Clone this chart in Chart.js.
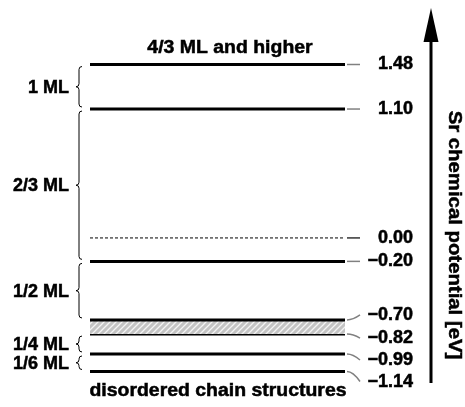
<!DOCTYPE html>
<html>
<head>
<meta charset="utf-8">
<script src="https://cdn.jsdelivr.net/npm/chart.js@4/dist/chart.umd.min.js"></script>
<style>
  html, body { margin: 0; padding: 0; background: #fff; }
  canvas { display: block; }
</style>
</head>
<body>
<canvas id="levels" width="465" height="407"></canvas>
<script>
// Sr chemical potential levels (eV) and the labels printed next to them
const levels = [1.48, 1.10, 0.00, -0.20, -0.70, -0.82, -0.99, -1.14];
const levelLabels = ["1.48", "1.10", "0.00", "\u22120.20", "\u22120.70", "\u22120.82", "\u22120.99", "\u22121.14"];

// coverage phases and the potential range each brace spans
const phases = ["1 ML", "2/3 ML", "1/2 ML", "1/4 ML", "1/6 ML"];
const phaseTop = [1.48, 1.10, -0.20, -0.82, -0.99];
const phaseBottom = [1.10, -0.20, -0.70, -0.99, -1.14];

// hatched region between two levels
const band = [-0.70, -0.82];

const topText = "4/3 ML and higher";
const bottomText = "disordered chain structures";
const axisTitle = "Sr chemical potential [eV]";

document.addEventListener("DOMContentLoaded", function () {
    const ctx = document.getElementById("levels").getContext("2d");

    // small nudges so crowded labels don't collide
    const labelNudge = [0, 0, 0, 0, -5, 4, 6, 10];

    function hatch() {
        const c = document.createElement("canvas");
        c.width = 6; c.height = 6;
        const g = c.getContext("2d");
        g.fillStyle = "#c4c4c4";
        g.fillRect(0, 0, 6, 6);
        g.strokeStyle = "#f4f4f4";
        g.lineWidth = 1.3;
        g.beginPath();
        g.moveTo(0, 6); g.lineTo(6, 0);
        g.moveTo(-1, 1); g.lineTo(1, -1);
        g.moveTo(5, 7); g.lineTo(7, 5);
        g.stroke();
        return ctx.createPattern(c, "repeat");
    }

    function text(c, str, x, y, align, size, stretch) {
        c.save();
        c.font = "bold " + size + "px 'Liberation Sans', Arial, sans-serif";
        c.textAlign = align;
        c.textBaseline = "middle";
        c.fillStyle = "#000";
        c.strokeStyle = "#000";
        c.lineWidth = 0.5;
        c.translate(x, y);
        c.scale(stretch, 1);
        c.fillText(str, 0, 0);
        c.strokeText(str, 0, 0);
        c.restore();
    }

    function brace(c, x, top, bottom) {
        const mid = (top + bottom) / 2;
        const r = Math.min(3, (bottom - top) / 4);
        c.beginPath();
        c.moveTo(x + 3, top);
        c.quadraticCurveTo(x, top, x, top + r);
        c.lineTo(x, mid - r);
        c.quadraticCurveTo(x, mid, x - 3, mid);
        c.quadraticCurveTo(x, mid, x, mid + r);
        c.lineTo(x, bottom - r);
        c.quadraticCurveTo(x, bottom, x + 3, bottom);
        c.stroke();
    }

    const annotations = {
        id: "annotations",
        afterDraw(chart) {
            const c = chart.ctx;
            const y = chart.scales.y;
            const area = chart.chartArea;

            // level labels with leader lines
            levels.forEach((v, i) => {
                const ly = y.getPixelForValue(v);
                const ty = ly + labelNudge[i];
                c.save();
                c.strokeStyle = v === 0 ? "#000" : "#808080";
                c.lineWidth = v === 0 ? 1.2 : 1.5;
                c.beginPath();
                c.moveTo(area.right + 2, ly);
                if (ty === ly) {
                    c.lineTo(area.right + 15, ly);
                } else {
                    c.quadraticCurveTo(area.right + 8, ly, area.right + 15, ty);
                }
                c.stroke();
                c.restore();
                text(c, levelLabels[i], 413, ty, "right", 18, 1.0);
            });

            // coverage braces
            c.save();
            c.strokeStyle = "#000";
            c.lineWidth = 1;
            phases.forEach((p, i) => {
                const t = y.getPixelForValue(phaseTop[i]) + 2;
                const b = y.getPixelForValue(phaseBottom[i]) - 2;
                brace(c, 79, t, b);
                text(c, p, 69, (t + b) / 2 + 1, "right", 18, 1.0);
            });
            c.restore();

            text(c, topText, 230, y.getPixelForValue(levels[0]) - 16, "center", 18, 1.08);
            text(c, bottomText, 218, y.getPixelForValue(levels[levels.length - 1]) + 19, "center", 18, 1.08);

            // axis arrow
            c.save();
            c.fillStyle = "#000";
            c.fillRect(429.5, 40, 3, 343);
            c.beginPath();
            c.moveTo(431, 8);
            c.lineTo(438.5, 42);
            c.lineTo(423.5, 42);
            c.closePath();
            c.fill();
            c.translate(454, 235);
            c.rotate(Math.PI / 2);
            text(c, axisTitle, 0, 0, "center", 18, 1.13);
            c.restore();
        }
    };

    const pattern = hatch();
    const datasets = levels.map((v, i) => ({
        data: [{ x: 0, y: v }, { x: 1, y: v }],
        borderColor: "#000",
        borderWidth: v === 0 ? 1 : 3,
        borderDash: v === 0 ? [3, 2] : [],
        borderCapStyle: "butt",
        pointRadius: 0,
        fill: v === band[0] ? "+1" : false,
        backgroundColor: v === band[0] ? pattern : "transparent",
    }));

    new Chart(ctx, {
        type: "line",
        data: { datasets: datasets },
        options: {
            responsive: false,
            animation: false,
            devicePixelRatio: 1,
            layout: { padding: { left: 90, right: 120, top: 27, bottom: 5 } },
            scales: {
                x: { type: "linear", min: 0, max: 1, display: false },
                y: { type: "linear", min: -1.4, max: 1.8, display: false },
            },
            plugins: {
                legend: { display: false },
                tooltip: { enabled: false },
            },
        },
        plugins: [annotations],
    });
});
</script>
</body>
</html>
